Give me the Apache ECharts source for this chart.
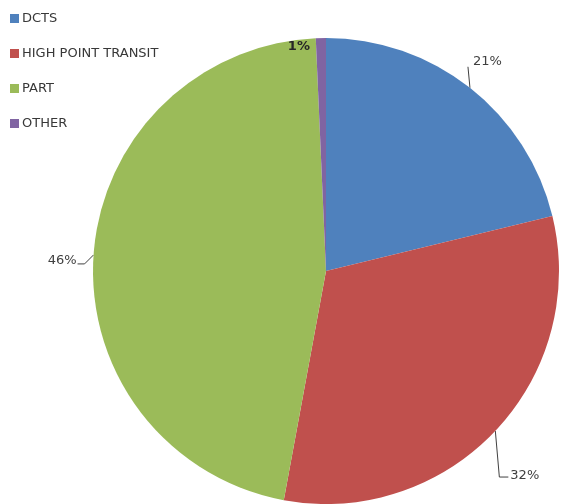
<!DOCTYPE html>
<html>
<head>
<meta charset="utf-8">
<script src="https://cdn.jsdelivr.net/npm/echarts@6/dist/echarts.min.js"></script>
<style>
html,body{margin:0;padding:0;background:#fff;}
#chart{width:562px;height:504px;}
</style>
</head>
<body>
<div id="chart"></div>
<script>
const categories = ['DCTS', 'HIGH POINT TRANSIT', 'PART', 'OTHER'];
const shares = [21.2, 31.7, 46.4, 0.7];
const colors = ['#4F81BD', '#C0504D', '#9BBB59', '#8064A2'];

const chart = echarts.init(document.getElementById('chart'));
const FONT = 'DejaVu Sans';

chart.setOption({
  animation: false,
  backgroundColor: '#ffffff',
  color: colors,
  legend: {
    orient: 'vertical',
    left: 10,
    top: 12,
    padding: 0,
    itemWidth: 9,
    itemHeight: 9,
    itemGap: 22,
    icon: 'rect',
    data: categories,
    textStyle: { fontFamily: FONT, fontSize: 13, color: '#383838', padding: [0, 0, 0, -2] }
  },
  series: [{
    type: 'pie',
    center: [326, 271],
    radius: 233,
    startAngle: 90,
    clockwise: true,
    avoidLabelOverlap: false,
    percentPrecision: 0,
    data: categories.map((c, i) => ({
      name: c,
      value: shares[i],
      label: i === 3 ? { fontWeight: 'bold', color: '#262626' } : undefined
    })),
    label: {
      show: true,
      position: 'outside',
      formatter: '{d}%',
      fontFamily: FONT,
      fontSize: 13,
      color: '#404040'
    },
    labelLine: {
      show: true,
      length: 10,
      length2: 10,
      lineStyle: { color: '#404040', width: 1 }
    },
    labelLayout: function (params) {
      const p = params.labelLinePoints ? params.labelLinePoints[0] : [0, 0];
      const i = params.dataIndex;
      if (i === 0) {
        return {
          x: p[0] + 3, y: p[1] - 26, align: 'left', verticalAlign: 'middle',
          labelLinePoints: [[p[0], p[1]], [p[0] - 2, p[1] - 21], [p[0] - 2, p[1] - 21]]
        };
      }
      if (i === 1) {
        return {
          x: p[0] + 15, y: p[1] + 45, align: 'left', verticalAlign: 'middle',
          labelLinePoints: [[p[0], p[1]], [p[0] + 4, p[1] + 46], [p[0] + 13, p[1] + 46]]
        };
      }
      if (i === 2) {
        return {
          x: p[0] - 17, y: p[1] + 6, align: 'right', verticalAlign: 'middle',
          labelLinePoints: [[p[0], p[1]], [p[0] - 9, p[1] + 9], [p[0] - 16, p[1] + 9]]
        };
      }
      return {
        x: p[0] - 22, y: p[1] + 9, align: 'center', verticalAlign: 'middle',
        labelLinePoints: [[p[0], p[1]], [p[0], p[1]], [p[0], p[1]]]
      };
    },
    itemStyle: { borderWidth: 0 },
    emphasis: { disabled: true }
  }]
});
</script>
</body>
</html>
